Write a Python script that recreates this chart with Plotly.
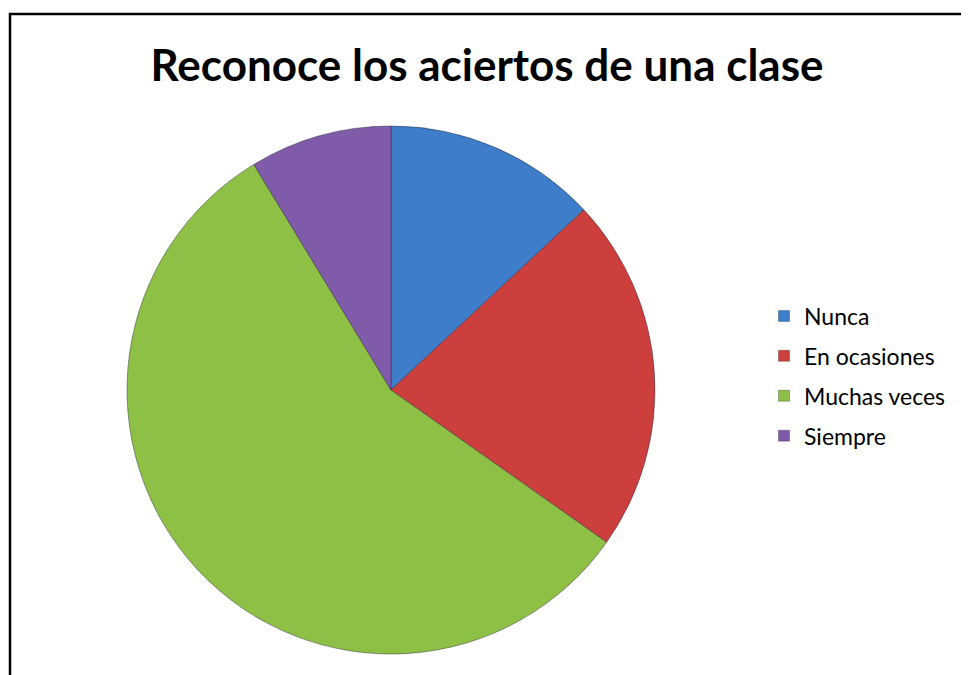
import plotly.graph_objects as go

categories = ["Nunca", "En ocasiones", "Muchas veces", "Siempre"]
values = [3, 5, 13, 2]
colors = ["#3D7DCA", "#CD3F3C", "#8DC044", "#7F5BAA"]
title_text = "Reconoce los aciertos de una clase"

W, H = 969, 675
OFF = 8  # page body margin offset

def px_x(v):
    return (v - OFF) / W

def px_y(v):
    return 1 - (v - OFF) / H

fig = go.Figure()
fig.add_trace(go.Pie(
    labels=categories, values=values, sort=False, direction="clockwise", rotation=0,
    marker=dict(colors=colors, line=dict(color="rgba(40,40,60,0.45)", width=1)),
    textinfo="none", hoverinfo="label+percent", showlegend=False,
    domain=dict(x=[px_x(127), px_x(655)], y=[px_y(654), px_y(126)]),
))
for i, (c, col) in enumerate(zip(categories, colors)):
    fig.add_trace(go.Scatter(
        x=[None], y=[None], mode="markers", name=c, legendgroup=c,
        marker=dict(symbol="square", size=11, color=col, line=dict(color="rgba(0,0,0,0.25)", width=1)),
        showlegend=True,
    ))

fig.update_layout(
    width=W, height=H,
    margin=dict(l=0, r=0, t=0, b=0),
    paper_bgcolor="white", plot_bgcolor="white",
    xaxis=dict(visible=False), yaxis=dict(visible=False),
    title=dict(text="<b>" + title_text + "</b>", x=px_x(487), xanchor="center",
               y=px_y(66), yanchor="middle",
               font=dict(family="Lato", size=44, color="black")),
    legend=dict(x=px_x(764), xanchor="left", y=px_y(376), yanchor="middle",
                font=dict(family="Lato", size=23, color="black"),
                tracegroupgap=7, itemwidth=30, bgcolor="rgba(0,0,0,0)"),
    shapes=[dict(type="rect", xref="paper", yref="paper",
                 x0=px_x(10), x1=1.02, y0=-0.02, y1=px_y(14),
                 line=dict(color="black", width=2.5))],
)

fig.write_html("out.html")
